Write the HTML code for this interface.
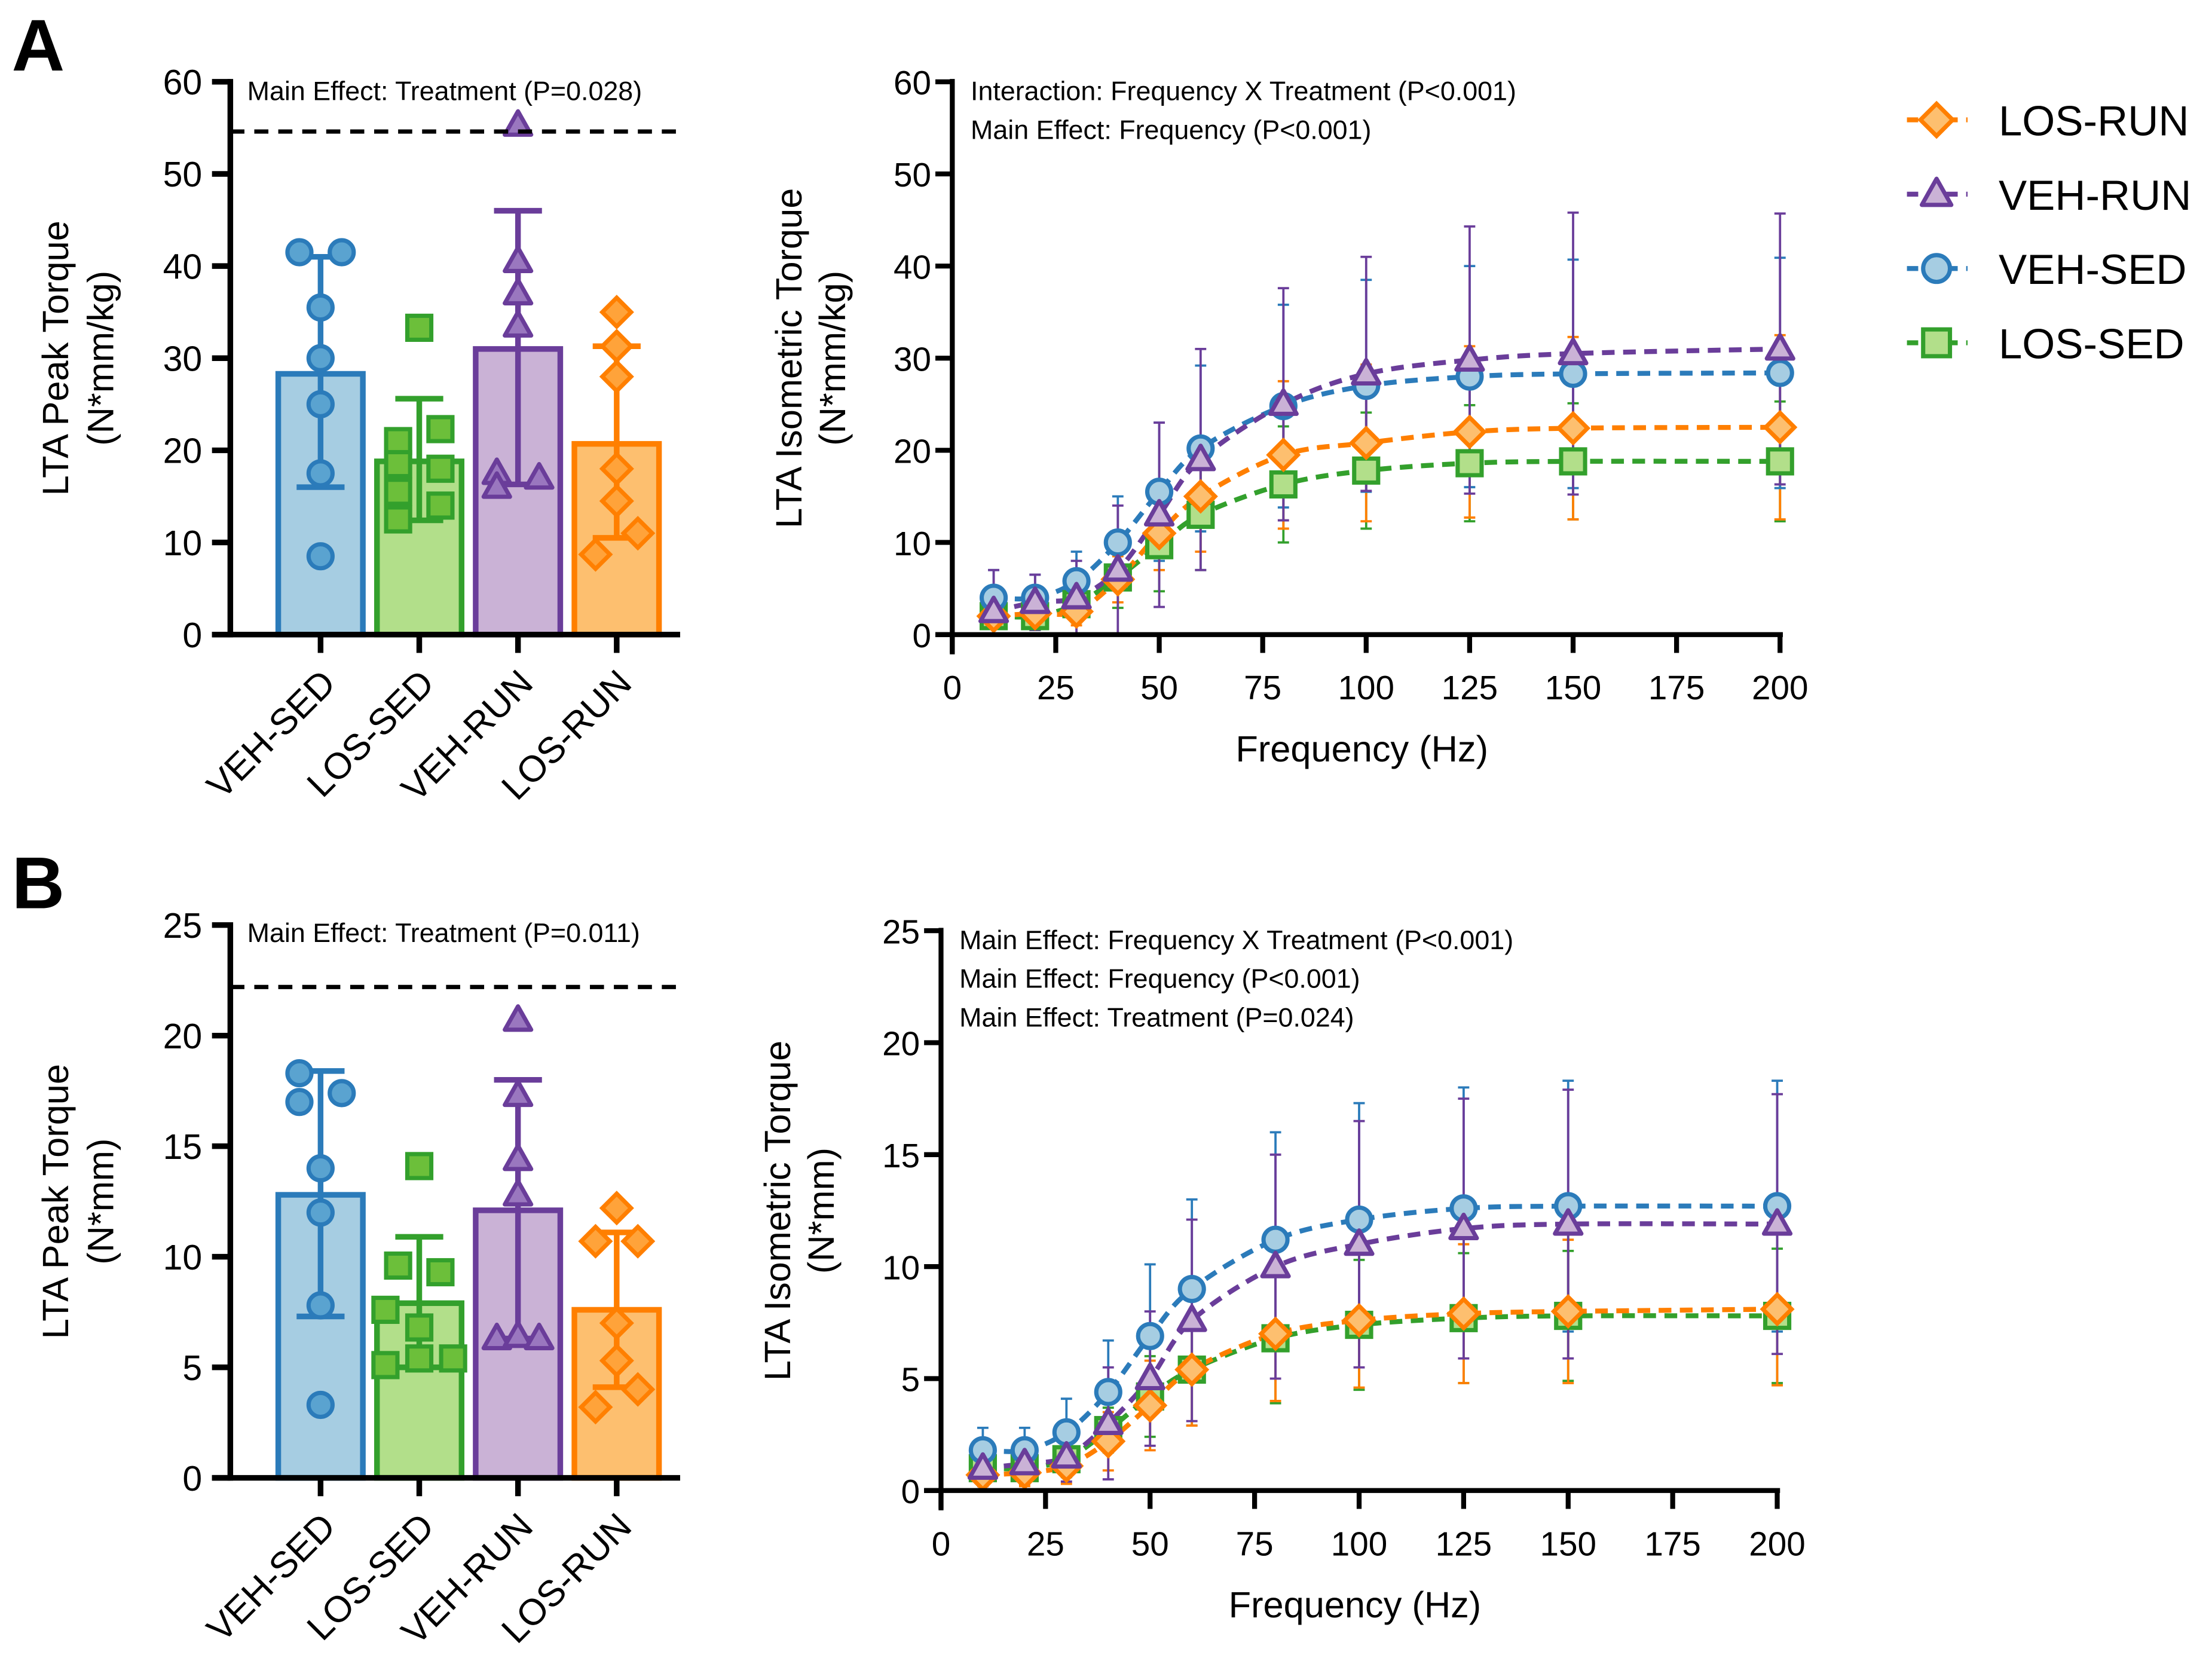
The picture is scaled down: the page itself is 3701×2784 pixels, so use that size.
<!DOCTYPE html>
<html><head><meta charset="utf-8"><style>
html,body{margin:0;padding:0;background:#fff}
svg{display:block}
text{font-family:"Liberation Sans",Arial,sans-serif;fill:#000}
</style></head><body>
<svg id="fig" width="3701" height="2784" viewBox="0 0 1568 1180" xmlns="http://www.w3.org/2000/svg"></svg>
<script>
// ---------- data ----------
const groups = ["VEH-SED","LOS-SED","VEH-RUN","LOS-RUN"];
const barMeansA = [28.3,18.8,31.0,20.7];
const barHiA = [41.0,25.6,46.0,31.3];
const barLoA = [16.0,12.4,16.3,10.5];
const ptsA_vehsed = [[41.5,-1],[41.5,1],[35.5,0],[30,0],[25,0],[17.5,0],[8.5,0]];
const ptsA_lossed = [[33.3,0],[21,-1],[22.3,1],[18.5,-1],[18,1],[15.5,-1],[14,1],[12.5,-1]];
const ptsA_vehrun = [[55.3,0],[40.5,0],[37,0],[33.5,0],[17.5,-1],[16,-1],[17,1]];
const ptsA_losrun = [[35,0],[31.3,0],[28,0],[18,0],[14.5,0],[11,1],[8.7,-1]];
const refA = 54.6;
const barMeansB = [12.8,7.9,12.1,7.6];
const barHiB = [18.4,10.9,18.0,11.1];
const barLoB = [7.3,5.0,6.3,4.1];
const ptsB_vehsed = [[18.3,-1],[17.0,-1],[17.4,1],[14,0],[12,0],[7.8,0],[3.3,0]];
const ptsB_lossed = [[14.1,0],[9.6,-1],[9.3,1],[7.6,-1.6],[6.8,0],[5.1,-1.6],[5.4,0],[5.4,1.6]];
const ptsB_vehrun = [[20.7,0],[17.3,0],[14.4,0],[12.8,0],[6.3,-1],[6.4,0],[6.3,1]];
const ptsB_losrun = [[12.2,0],[10.7,-1],[10.7,1],[7,0],[5.3,0],[4,1],[3.2,-1]];
const refB = 22.2;

const freqs = [10,20,30,40,50,60,80,100,125,150,200];
const A_losrun = [2,2.3,2.5,6,11,15,19.5,20.8,22,22.4,22.5];
const A_losrunSD = [1.2,1.2,1.5,2.5,4,6,8,8.5,9.3,9.9,10];
const A_vehrun = [2.5,3.5,4,7,13,19,25,28.3,29.8,30.5,31];
const A_vehrunSD = [4.5,3,4,7,10,12,12.6,12.7,14.5,15.3,14.7];
const A_vehsed = [4,4,5.8,10,15.5,20.2,24.8,27,28,28.3,28.4];
const A_vehsedSD = [3,2.5,3.2,5,7.5,9,11,11.5,12,12.4,12.5];
const A_lossed = [2,2,3.3,6.2,9.7,13,16.3,17.8,18.6,18.8,18.8];
const A_lossedSD = [2,1.5,2,3.3,5,6,6.3,6.3,6.3,6.3,6.5];
const B_losrun = [0.7,0.8,1.1,2.2,3.8,5.4,7.0,7.6,7.9,8.0,8.1];
const B_losrunSD = [0.5,0.6,0.8,1.3,2.0,2.5,3.0,3.0,3.1,3.2,3.4];
const B_vehrun = [1.0,1.2,1.5,3.0,5.0,7.6,10.0,11.0,11.7,11.9,11.9];
const B_vehrunSD = [0.8,0.9,1.1,2.5,3.0,4.5,5.0,5.5,5.8,6.0,5.8];
const B_vehsed = [1.8,1.8,2.6,4.4,6.9,9.0,11.2,12.1,12.6,12.7,12.7];
const B_vehsedSD = [1.0,1.0,1.5,2.3,3.2,4.0,4.8,5.2,5.4,5.6,5.6];
const B_lossed = [1.0,1.0,1.4,2.7,4.2,5.4,6.8,7.4,7.7,7.8,7.8];
const B_lossedSD = [0.6,0.6,0.8,1.0,1.8,2.5,2.9,2.9,2.9,2.9,3.0];
const xTicks = [0,25,50,75,100,125,150,175,200];
const yTicksA = [0,10,20,30,40,50,60];
const yTicksB = [0,5,10,15,20,25];

// ---------- helpers ----------
const NS = "http://www.w3.org/2000/svg";
const svg = document.getElementById("fig");
function mk(parent, tag, attrs, name, txt){
  const el = document.createElementNS(NS, tag);
  for (const k in attrs) el.setAttribute(k, attrs[k]);
  
  
  if (txt !== undefined) el.textContent = txt;
  parent.appendChild(el);
  return el;
}
const COL = {
  "VEH-SED":{s:"#2b7bba",f:"#a6cde2",p:"#5aa3d0",m:"circle"},
  "LOS-SED":{s:"#33a02c",f:"#b2df8a",p:"#6cbf3a",m:"square"},
  "VEH-RUN":{s:"#6a3d9a",f:"#cab2d6",p:"#9a77bf",m:"triangle"},
  "LOS-RUN":{s:"#ff7f00",f:"#fdbf6f",p:"#ffa33a",m:"diamond"}
};
function marker(g, type, x, y, r, stroke, fill, sw, name){
  if (type==="circle") return mk(g,"circle",{cx:x,cy:y,r:r,fill:fill,stroke:stroke,"stroke-width":sw},name);
  if (type==="square") return mk(g,"rect",{x:x-r,y:y-r,width:2*r,height:2*r,fill:fill,stroke:stroke,"stroke-width":sw},name);
  if (type==="triangle") return mk(g,"polygon",{points:`${x},${y-r*1.15} ${x+r*1.1},${y+r*0.8} ${x-r*1.1},${y+r*0.8}`,fill:fill,stroke:stroke,"stroke-width":sw,"stroke-linejoin":"round"},name);
  return mk(g,"polygon",{points:`${x},${y-r*1.2} ${x+r*1.2},${y} ${x},${y+r*1.2} ${x-r*1.2},${y}`,fill:fill,stroke:stroke,"stroke-width":sw},name);
}

// ---------- bar chart ----------
function barChart(opt){
  const g = mk(svg,"g",{},opt.name);
  const ax = 163, y0 = opt.y0, yT = opt.yTop, ymax = opt.ymax;
  const Y = v => y0 - (v/ymax)*(y0-yT);
  const cx = [227,297,367,437];
  mk(g,"text",{x:8,y:opt.letterY,"font-size":52,"font-weight":"bold"},"panel-letter",opt.letter);
  groups.forEach((gr,i)=>{
    const c = COL[gr];
    mk(g,"rect",{x:cx[i]-30,y:Y(opt.means[i]),width:60,height:y0-Y(opt.means[i]),fill:c.f,stroke:c.s,"stroke-width":4},"bar-"+gr.toLowerCase());
  });
  groups.forEach((gr,i)=>{
    const c = COL[gr];
    mk(g,"line",{x1:cx[i],x2:cx[i],y1:Y(opt.hi[i]),y2:Y(opt.lo[i]),stroke:c.s,"stroke-width":4},"error-bar-"+gr.toLowerCase());
    mk(g,"line",{x1:cx[i]-17,x2:cx[i]+17,y1:Y(opt.hi[i]),y2:Y(opt.hi[i]),stroke:c.s,"stroke-width":4},"error-cap-high");
    mk(g,"line",{x1:cx[i]-17,x2:cx[i]+17,y1:Y(opt.lo[i]),y2:Y(opt.lo[i]),stroke:c.s,"stroke-width":4},"error-cap-low");
  });
  groups.forEach((gr,i)=>{
    const c = COL[gr];
    opt.pts[i].forEach(p=>{
      marker(g,c.m,cx[i]+p[1]*15,Y(p[0]),8.5,c.s,c.p,3,"data-point-"+gr.toLowerCase());
    });
  });
  mk(g,"line",{x1:ax,x2:482,y1:Y(opt.ref),y2:Y(opt.ref),stroke:"#000","stroke-width":3,"stroke-dasharray":"10,7"},"reference-line");
  mk(g,"line",{x1:ax,x2:ax,y1:yT-2,y2:y0+2,stroke:"#000","stroke-width":4},"y-axis");
  mk(g,"line",{x1:150,x2:482,y1:y0,y2:y0,stroke:"#000","stroke-width":4},"x-axis");
  opt.ticks.forEach(t=>{
    mk(g,"line",{x1:150,x2:ax,y1:Y(t),y2:Y(t),stroke:"#000","stroke-width":4},"y-tick");
    mk(g,"text",{x:143,y:Y(t)+9,"font-size":25,"text-anchor":"end"},"y-tick-label",String(t));
  });
  groups.forEach((gr,i)=>{
    mk(g,"line",{x1:cx[i],x2:cx[i],y1:y0,y2:y0+13,stroke:"#000","stroke-width":4},"x-tick");
    mk(g,"text",{x:cx[i]+12,y:y0+36,"font-size":26,"text-anchor":"end",transform:`rotate(-45 ${cx[i]+12} ${y0+36})`},"x-tick-label",gr);
  });
  const my = (y0+yT)/2;
  mk(g,"text",{x:48,y:my,"font-size":26,"text-anchor":"middle",transform:`rotate(-90 48 ${my})`},"y-axis-title",opt.yt1);
  mk(g,"text",{x:80,y:my,"font-size":26,"text-anchor":"middle",transform:`rotate(-90 80 ${my})`},"y-axis-title-units",opt.yt2);
  mk(g,"text",{x:175,y:opt.annY,"font-size":19},"annotation",opt.ann);
}

// ---------- line chart ----------
function smoothPath(pts){
  let d = `M${pts[0][0]},${pts[0][1]}`;
  for (let i=0;i<pts.length-1;i++){
    const p0 = pts[Math.max(0,i-1)], p1 = pts[i], p2 = pts[i+1], p3 = pts[Math.min(pts.length-1,i+2)];
    const c1x = p1[0]+(p2[0]-p0[0])/6, c1y = p1[1]+(p2[1]-p0[1])/6;
    const c2x = p2[0]-(p3[0]-p1[0])/6, c2y = p2[1]-(p3[1]-p1[1])/6;
    d += ` C${c1x},${c1y} ${c2x},${c2y} ${p2[0]},${p2[1]}`;
  }
  return d;
}
function lineChart(opt){
  const g = mk(svg,"g",{},opt.name);
  const ax = opt.ax, y0 = opt.y0, yT = opt.yTop, ymax = opt.ymax, xr = opt.xr;
  const X = v => ax + v/200*(xr-ax);
  const Y = v => y0 - (v/ymax)*(y0-yT);
  const order = ["LOS-SED","LOS-RUN","VEH-SED","VEH-RUN"];
  order.forEach(gr=>{
    const c = COL[gr], s = opt.series[gr];
    mk(g,"path",{d:smoothPath(freqs.map((f,i)=>[X(f),Y(s[0][i])])),fill:"none",stroke:c.s,"stroke-width":3.5,"stroke-dasharray":"9,6"},"line-"+gr.toLowerCase());
  });
  order.forEach(gr=>{
    const c = COL[gr], s = opt.series[gr];
    freqs.forEach((f,i)=>{
      const x = X(f), hi = Y(s[0][i]+s[1][i]), lo = Y(Math.max(0,s[0][i]-s[1][i]));
      mk(g,"line",{x1:x,x2:x,y1:hi,y2:lo,stroke:c.s,"stroke-width":1.6},"error-bar-"+gr.toLowerCase());
      mk(g,"line",{x1:x-4,x2:x+4,y1:hi,y2:hi,stroke:c.s,"stroke-width":1.6},"error-cap-high");
      mk(g,"line",{x1:x-4,x2:x+4,y1:lo,y2:lo,stroke:c.s,"stroke-width":1.6},"error-cap-low");
    });
  });
  order.forEach(gr=>{
    const c = COL[gr], s = opt.series[gr];
    freqs.forEach((f,i)=>{ marker(g,c.m,X(f),Y(s[0][i]),8.5,c.s,c.f,3,"point-"+gr.toLowerCase()); });
  });
  mk(g,"line",{x1:ax,x2:ax,y1:yT-2,y2:y0+14,stroke:"#000","stroke-width":3.5},"y-axis");
  mk(g,"line",{x1:ax-12,x2:xr+2,y1:y0,y2:y0,stroke:"#000","stroke-width":3.5},"x-axis");
  opt.ticks.forEach(t=>{
    mk(g,"line",{x1:ax-12,x2:ax,y1:Y(t),y2:Y(t),stroke:"#000","stroke-width":3.5},"y-tick");
    mk(g,"text",{x:ax-15,y:Y(t)+9,"font-size":24,"text-anchor":"end"},"y-tick-label",String(t));
  });
  xTicks.forEach(t=>{
    mk(g,"line",{x1:X(t),x2:X(t),y1:y0,y2:y0+13,stroke:"#000","stroke-width":3.5},"x-tick");
    mk(g,"text",{x:X(t),y:y0+46,"font-size":24,"text-anchor":"middle"},"x-tick-label",String(t));
  });
  mk(g,"text",{x:(ax+xr)/2-3,y:y0+90,"font-size":26,"text-anchor":"middle"},"x-axis-title","Frequency (Hz)");
  const my = (y0+yT)/2;
  mk(g,"text",{x:ax-107,y:my,"font-size":26,"text-anchor":"middle",transform:`rotate(-90 ${ax-107} ${my})`},"y-axis-title",opt.yt1);
  mk(g,"text",{x:ax-76,y:my,"font-size":26,"text-anchor":"middle",transform:`rotate(-90 ${ax-76} ${my})`},"y-axis-title-units",opt.yt2);
  opt.ann.forEach((a,i)=>{ mk(g,"text",{x:ax+13,y:opt.annY+i*27.5,"font-size":19},"annotation",a); });
}

barChart({name:"panel-a-bar-chart",letter:"A",letterY:50,y0:450,yTop:58,ymax:60,means:barMeansA,hi:barHiA,lo:barLoA,
  pts:[ptsA_vehsed,ptsA_lossed,ptsA_vehrun,ptsA_losrun],ref:refA,ticks:yTicksA,yt1:"LTA Peak Torque",yt2:"(N*mm/kg)",
  ann:"Main Effect: Treatment (P=0.028)",annY:71});
barChart({name:"panel-b-bar-chart",letter:"B",letterY:644,y0:1048,yTop:656,ymax:25,means:barMeansB,hi:barHiB,lo:barLoB,
  pts:[ptsB_vehsed,ptsB_lossed,ptsB_vehrun,ptsB_losrun],ref:refB,ticks:yTicksB,yt1:"LTA Peak Torque",yt2:"(N*mm)",
  ann:"Main Effect: Treatment (P=0.011)",annY:668});
lineChart({name:"panel-a-line-chart",ax:675,xr:1262,y0:450,yTop:58,ymax:60,ticks:yTicksA,
  series:{"LOS-RUN":[A_losrun,A_losrunSD],"VEH-RUN":[A_vehrun,A_vehrunSD],"VEH-SED":[A_vehsed,A_vehsedSD],"LOS-SED":[A_lossed,A_lossedSD]},
  yt1:"LTA Isometric Torque",yt2:"(N*mm/kg)",ann:["Interaction: Frequency X Treatment (P<0.001)","Main Effect: Frequency (P<0.001)"],annY:71});
lineChart({name:"panel-b-line-chart",ax:667,xr:1260,y0:1057,yTop:660,ymax:25,ticks:yTicksB,
  series:{"LOS-RUN":[B_losrun,B_losrunSD],"VEH-RUN":[B_vehrun,B_vehrunSD],"VEH-SED":[B_vehsed,B_vehsedSD],"LOS-SED":[B_lossed,B_lossedSD]},
  yt1:"LTA Isometric Torque",yt2:"(N*mm)",ann:["Main Effect: Frequency X Treatment (P<0.001)","Main Effect: Frequency (P<0.001)","Main Effect: Treatment (P=0.024)"],annY:673});

// legend
const lg = mk(svg,"g",{},"legend");
["LOS-RUN","VEH-RUN","VEH-SED","LOS-SED"].forEach((gr,i)=>{
  const c = COL[gr], y = 85+i*52.7;
  const e = mk(lg,"g",{},"legend-entry");
  mk(e,"line",{x1:1352,x2:1395,y1:y,y2:y,stroke:c.s,"stroke-width":3.5,"stroke-dasharray":"8,6"},"legend-line");
  marker(e,c.m,1373,y,9.5,c.s,c.f,3,"legend-marker");
  mk(e,"text",{x:1417,y:y+11,"font-size":30},"legend-label",gr);
});
</script>
</body></html>
